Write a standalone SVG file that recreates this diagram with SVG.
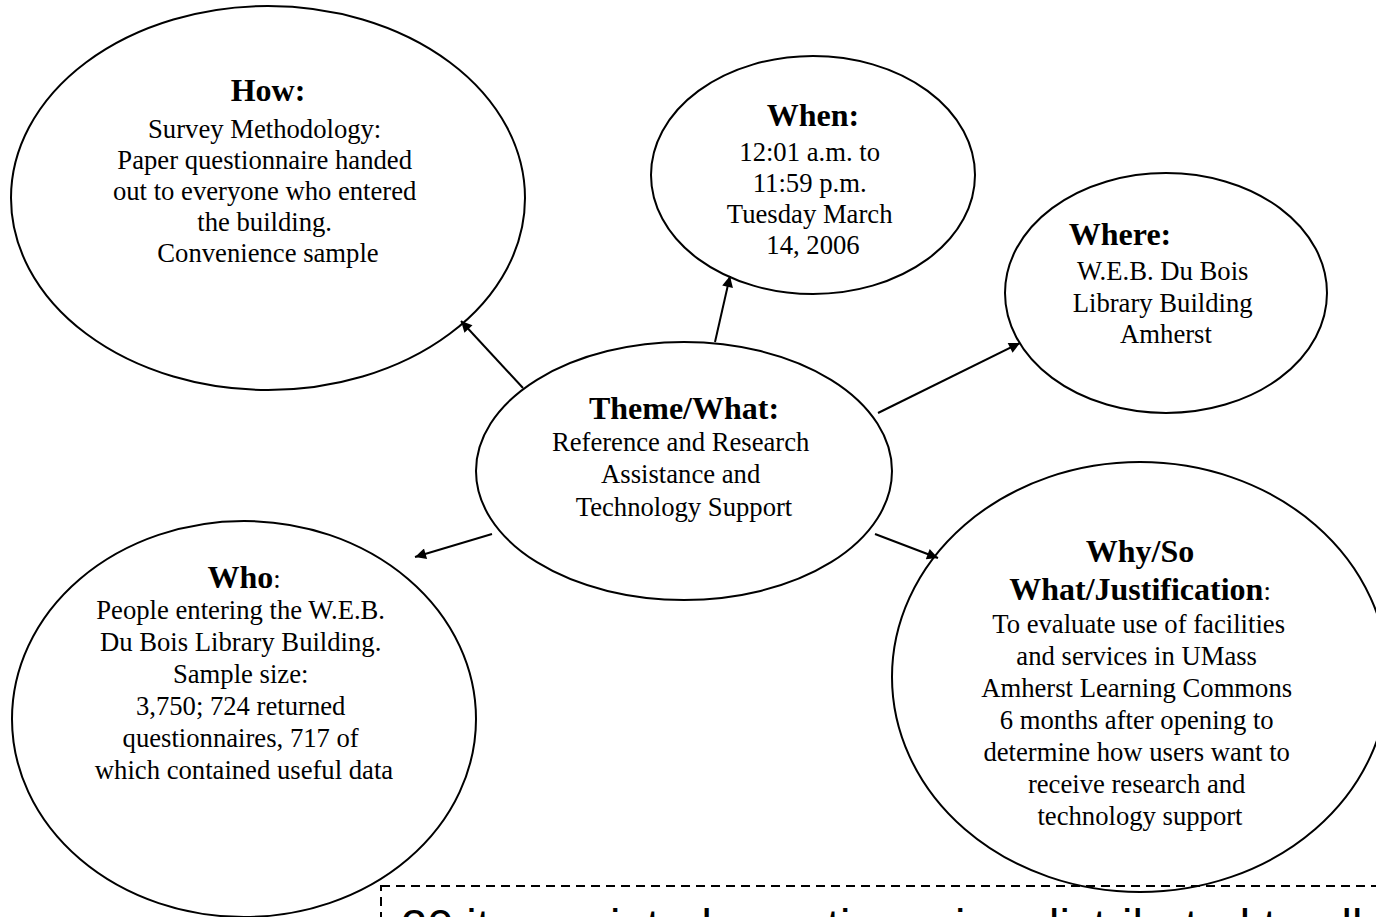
<svg xmlns="http://www.w3.org/2000/svg" width="1376" height="917" viewBox="0 0 1376 917">
<style>
.node{fill:#fff;stroke:#000;stroke-width:2}
.h{font-family:"Liberation Serif","Times New Roman",serif;font-weight:bold;font-size:32px;fill:#000}
.t{font-family:"Liberation Serif","Times New Roman",serif;font-size:26.67px;fill:#000}
.c{stroke:#000;stroke-width:2;fill:none;marker-end:url(#ah)}
</style>
<defs>
<marker id="ah" viewBox="0 0 10 10" refX="10" refY="5" markerWidth="7" markerHeight="5.5" markerUnits="strokeWidth" orient="auto">
<path d="M0,0 L10,5 L0,10 z" fill="#000"/>
</marker>
</defs>
<rect width="1376" height="917" fill="#fff"/>

<g id="how">
<ellipse class="node" cx="268" cy="198" rx="257" ry="192"/>
<text class="h" x="268" y="101" text-anchor="middle">How:</text>
<text class="t" text-anchor="middle">
<tspan x="268" y="138">Survey Methodology:</tspan>
<tspan x="268" y="169">Paper questionnaire handed</tspan>
<tspan x="268" y="200">out to everyone who entered</tspan>
<tspan x="268" y="231">the building.</tspan>
<tspan x="268" y="262">Convenience sample</tspan>
</text>
</g>

<g id="when">
<ellipse class="node" cx="813" cy="175" rx="162" ry="119"/>
<text class="h" x="813" y="126" text-anchor="middle">When:</text>
<text class="t" text-anchor="middle">
<tspan x="813" y="161">12:01 a.m. to</tspan>
<tspan x="813" y="192">11:59 p.m.</tspan>
<tspan x="813" y="223">Tuesday March</tspan>
<tspan x="813" y="254">14, 2006</tspan>
</text>
</g>

<g id="where">
<ellipse class="node" cx="1166" cy="293" rx="161" ry="120"/>
<text class="h" x="1120" y="245" text-anchor="middle">Where:</text>
<text class="t" text-anchor="middle">
<tspan x="1166" y="280">W.E.B. Du Bois</tspan>
<tspan x="1166" y="312">Library Building</tspan>
<tspan x="1166" y="343">Amherst</tspan>
</text>
</g>

<g id="theme">
<ellipse class="node" cx="684" cy="471" rx="208" ry="129"/>
<text class="h" x="684" y="419" text-anchor="middle">Theme/What:</text>
<text class="t" text-anchor="middle">
<tspan x="684" y="451">Reference and Research</tspan>
<tspan x="684" y="483">Assistance and</tspan>
<tspan x="684" y="516">Technology Support</tspan>
</text>
</g>

<g id="who">
<ellipse class="node" cx="244" cy="719" rx="232" ry="198"/>
<text x="244" y="588" text-anchor="middle"><tspan class="h">Who</tspan><tspan class="t">:</tspan></text>
<text class="t" text-anchor="middle">
<tspan x="244" y="619">People entering the W.E.B.</tspan>
<tspan x="244" y="651">Du Bois Library Building.</tspan>
<tspan x="244" y="683">Sample size:</tspan>
<tspan x="244" y="715">3,750; 724 returned</tspan>
<tspan x="244" y="747">questionnaires, 717 of</tspan>
<tspan x="244" y="779">which contained useful data</tspan>
</text>
</g>

<g id="why">
<ellipse class="node" cx="1140" cy="677" rx="248" ry="215"/>
<text class="h" x="1140" y="562" text-anchor="middle">Why/So</text>
<text x="1140" y="600" text-anchor="middle"><tspan class="h">What/Justification</tspan><tspan class="t">:</tspan></text>
<text class="t" text-anchor="middle">
<tspan x="1142" y="633">To evaluate use of facilities</tspan>
<tspan x="1140" y="665">and services in UMass</tspan>
<tspan x="1140" y="697">Amherst Learning Commons</tspan>
<tspan x="1140" y="729">6 months after opening to</tspan>
<tspan x="1140" y="761">determine how users want to</tspan>
<tspan x="1140" y="793">receive research and</tspan>
<tspan x="1140" y="825">technology support</tspan>
</text>
</g>

<g id="note">
<rect x="381" y="886" width="1100" height="200" fill="none" stroke="#000" stroke-width="2" stroke-dasharray="9 6"/>
<text x="401" y="942" font-family="Liberation Sans, Arial, sans-serif" font-size="47">20 item printed questionnaire, distributed to all</text>
</g>

<g id="connectors">
<line class="c" x1="523" y1="388" x2="461" y2="321"/>
<line class="c" x1="715" y1="342" x2="730" y2="276"/>
<line class="c" x1="878" y1="413" x2="1020" y2="343"/>
<line class="c" x1="492" y1="534" x2="415" y2="557"/>
<line class="c" x1="875" y1="534" x2="938" y2="558"/>
</g>
</svg>
